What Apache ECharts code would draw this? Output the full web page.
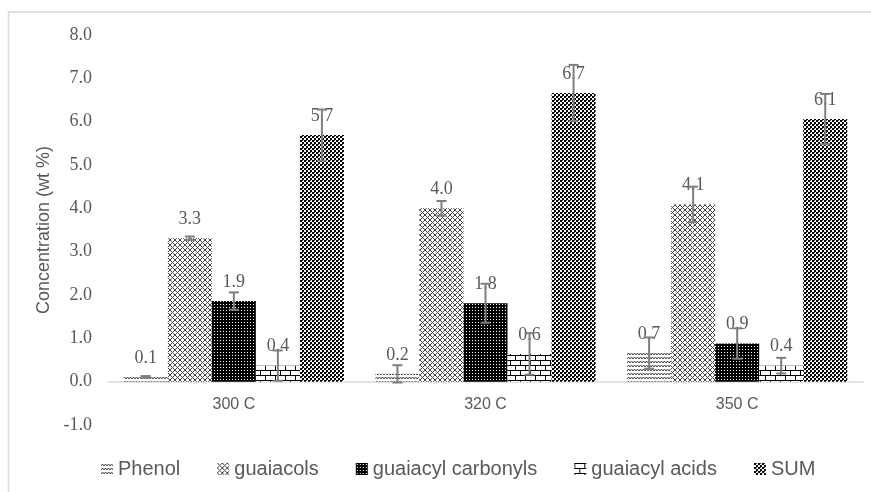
<!DOCTYPE html>
<html>
<head>
<meta charset="utf-8">
<script src="https://cdn.jsdelivr.net/npm/echarts@6/dist/echarts.min.js"></script>
<style>html,body{margin:0;padding:0;background:#fff;}#c{width:871px;height:492px;}</style>
</head>
<body>
<div id="c"></div>
<script>
const categories = ['300 C', '320 C', '350 C'];
const seriesNames = ['Phenol', 'guaiacols', 'guaiacyl carbonyls', 'guaiacyl acids', 'SUM'];
const phenol = [0.11, 0.18, 0.66];
const guaiacols = [3.31, 4.0, 4.09];
const carbonyls = [1.86, 1.81, 0.88];
const acids = [0.37, 0.64, 0.37];
const sum = [5.69, 6.66, 6.06];
const phenolErr = [0.02, 0.2, 0.36];
const guaiacolsErr = [0.04, 0.17, 0.41];
const carbonylsErr = [0.2, 0.45, 0.35];
const acidsErr = [0.35, 0.48, 0.18];
const sumErr = [0.59, 0.65, 0.58];
const yTicks = [-1, 0, 1, 2, 3, 4, 5, 6, 7, 8];

const values = [phenol, guaiacols, carbonyls, acids, sum];
const errors = [phenolErr, guaiacolsErr, carbonylsErr, acidsErr, sumErr];

function pattern(w, h, draw) {
  const c = document.createElement('canvas');
  c.width = w; c.height = h;
  const ctx = c.getContext('2d');
  ctx.fillStyle = '#fff';
  ctx.fillRect(0, 0, w, h);
  draw(ctx);
  return { image: c, repeat: 'repeat' };
}
const fills = [
  pattern(6, 4, ctx => {
    ctx.strokeStyle = '#444'; ctx.lineWidth = 1;
    ctx.beginPath();
    ctx.moveTo(0, 3); ctx.lineTo(1.5, 1); ctx.lineTo(3, 3); ctx.lineTo(4.5, 1); ctx.lineTo(6, 3);
    ctx.stroke();
  }),
  pattern(5, 5, ctx => {
    ctx.strokeStyle = '#444'; ctx.lineWidth = 1;
    ctx.beginPath();
    ctx.moveTo(0, 0); ctx.lineTo(5, 5);
    ctx.moveTo(5, 0); ctx.lineTo(0, 5);
    ctx.stroke();
  }),
  pattern(3, 3, ctx => {
    ctx.fillStyle = '#000'; ctx.fillRect(0, 0, 3, 3);
    ctx.fillStyle = '#fff'; ctx.fillRect(1, 1, 1, 1);
  }),
  pattern(10, 10, ctx => {
    ctx.strokeStyle = '#000'; ctx.lineWidth = 1;
    ctx.beginPath();
    ctx.moveTo(0, 0.5); ctx.lineTo(10, 0.5);
    ctx.moveTo(0, 5.5); ctx.lineTo(10, 5.5);
    ctx.moveTo(0.5, 0); ctx.lineTo(0.5, 5);
    ctx.moveTo(5.5, 5); ctx.lineTo(5.5, 10);
    ctx.stroke();
  }),
  pattern(4, 4, ctx => {
    ctx.fillStyle = '#000';
    ctx.fillRect(0, 0, 2, 2);
    ctx.fillRect(2, 2, 2, 2);
    ctx.fillStyle = '#444';
    ctx.fillRect(2, 0, 1, 1);
  })
];

const catGap = 0.125;
const numFont = 'Liberation Serif';
const sansFont = 'Liberation Sans';
const textColor = '#595959';

const barSeries = seriesNames.map((name, i) => ({
  name: name,
  type: 'bar',
  data: values[i],
  barGap: '0%',
  barCategoryGap: (catGap * 100) + '%',
  itemStyle: { color: fills[i] },
  label: {
    show: true, position: 'top', distance: 10,
    formatter: p => p.value.toFixed(1),
    fontFamily: numFont, fontSize: 18, color: textColor
  },
  emphasis: { disabled: true }
}));

const errData = [];
for (let i = 0; i < values.length; i++) {
  for (let c = 0; c < categories.length; c++) {
    errData.push([c, i, values[i][c], errors[i][c]]);
  }
}

const errSeries = {
  type: 'custom',
  name: 'err',
  z: 10,
  silent: true,
  data: errData,
  encode: { x: 0, y: 2 },
  renderItem: function (params, api) {
    const c = api.value(0), i = api.value(1), v = api.value(2), e = api.value(3);
    const band = api.size([1, 0])[0];
    const groupW = band * (1 - catGap);
    const barW = groupW / seriesNames.length;
    const center = api.coord([c, v]);
    const x = center[0] - groupW / 2 + barW * (i + 0.5);
    const top = api.coord([c, v + e])[1];
    const bot = api.coord([c, v - e])[1];
    const cap = 5;
    const st = { stroke: '#7f7f7f', lineWidth: 2 };
    return {
      type: 'group',
      children: [
        { type: 'line', shape: { x1: x, y1: top, x2: x, y2: bot }, style: st },
        { type: 'line', shape: { x1: x - cap, y1: top, x2: x + cap, y2: top }, style: st },
        { type: 'line', shape: { x1: x - cap, y1: bot, x2: x + cap, y2: bot }, style: st }
      ]
    };
  }
};

const chart = echarts.init(document.getElementById('c'), null, { renderer: 'canvas' });
chart.setOption({
  animation: false,
  backgroundColor: '#fff',
  graphic: [{
    type: 'rect', silent: true, z: -10,
    shape: { x: 8.5, y: 12, width: 1000, height: 1000 },
    style: { fill: 'none', stroke: '#d9d9d9', lineWidth: 1.5 }
  }],
  grid: { left: 108, right: 8, top: 35, bottom: 67, containLabel: false },
  legend: {
    data: seriesNames,
    top: 454,
    left: 96,
    itemWidth: 12, itemHeight: 12, itemGap: 37,
    icon: 'rect',
    textStyle: { fontFamily: sansFont, fontSize: 20, color: textColor }
  },
  xAxis: {
    type: 'category',
    data: categories,
    axisLine: { onZero: true, lineStyle: { color: '#d9d9d9', width: 1.5 } },
    axisTick: { show: false },
    axisLabel: { margin: -28, fontFamily: sansFont, fontSize: 16, color: textColor },
    splitLine: { show: false }
  },
  yAxis: {
    type: 'value',
    min: yTicks[0], max: yTicks[yTicks.length - 1], interval: 1,
    name: 'Concentration (wt %)',
    nameLocation: 'middle',
    nameGap: 52,
    nameTextStyle: { fontFamily: sansFont, fontSize: 18, color: textColor },
    axisLine: { show: false },
    axisTick: { show: false },
    splitLine: { show: false },
    axisLabel: { margin: 16, fontFamily: numFont, fontSize: 18, color: textColor, formatter: v => v.toFixed(1) }
  },
  series: barSeries.concat([errSeries])
});
</script>
</body>
</html>
